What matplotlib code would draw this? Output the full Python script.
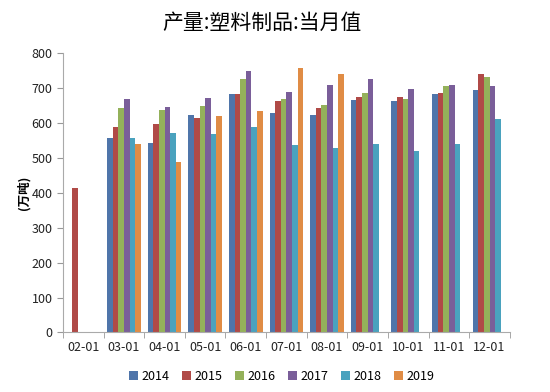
import numpy as np
import matplotlib.pyplot as plt

plt.rcParams['font.family'] = ['Noto Sans CJK SC', 'DejaVu Sans']

months = ['02-01', '03-01', '04-01', '05-01', '06-01', '07-01',
          '08-01', '09-01', '10-01', '11-01', '12-01']
years = ['2014', '2015', '2016', '2017', '2018', '2019']
nan = np.nan

# 当月值 (万吨)
v2014 = [nan, 557, 542, 623, 683, 628, 623, 665, 663, 683, 696]
v2015 = [415, 589, 598, 616, 684, 663, 642, 676, 676, 686, 741]
v2016 = [nan, 642, 637, 650, 726, 668, 652, 685, 670, 705, 731]
v2017 = [nan, 670, 647, 673, 748, 688, 709, 726, 699, 710, 706]
v2018 = [nan, 557, 571, 569, 590, 536, 529, 541, 519, 539, 612]
v2019 = [nan, 540, 488, 620, 634, 758, 742, nan, nan, nan, nan]
series = [v2014, v2015, v2016, v2017, v2018, v2019]
colors = ['#4F75AA', '#B04A47', '#94B15A', '#7A5E99', '#4AA2BE', '#E08C45']

fig = plt.figure(figsize=(5.5, 3.92), dpi=100)
ax = fig.add_axes([0.1145, 0.152, 0.8125, 0.712])

x = np.arange(len(months))
w = 0.138
for i, (vals, c, yr) in enumerate(zip(series, colors, years)):
    ax.bar(x + (i - 2.5) * w, vals, width=w, color=c, label=yr, linewidth=0)

ax.set_xlim(-0.5, len(months) - 0.5)
ax.set_ylim(0, 800)
ax.set_yticks(range(0, 801, 100))
ax.set_xticks(x)
ax.set_xticklabels(months)
ax.set_xticks(np.arange(-0.5, len(months)), minor=True)
ax.tick_params(axis='x', which='major', length=0, labelsize=9, pad=6, colors='#222222')
ax.tick_params(axis='x', which='minor', length=4, color='#999999')
ax.tick_params(axis='y', length=4, color='#999999', labelsize=9, colors='#222222')
ax.tick_params(axis='y', which='major', color='#999999')
for s in ['top', 'right']:
    ax.spines[s].set_visible(False)
for s in ['left', 'bottom']:
    ax.spines[s].set_color('#aaaaaa')

ax.set_ylabel('(万吨)', fontsize=9, fontweight='bold', labelpad=1)
fig.text(0.477, 0.942, '产量:塑料制品:当月值', ha='center', va='center',
         fontsize=15, fontweight='medium')

ax.legend(loc='upper center', bbox_to_anchor=(0.49, -0.095), ncol=6, frameon=False,
          fontsize=9, handlelength=0.7, handleheight=0.7, handletextpad=0.3,
          columnspacing=1.0)

fig.savefig('out.png', dpi=100)
